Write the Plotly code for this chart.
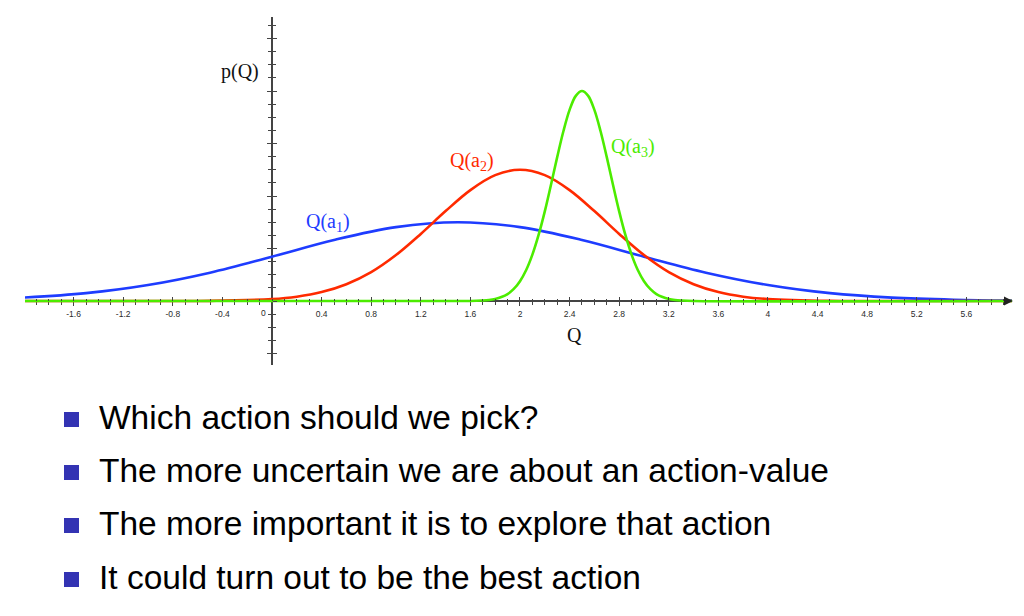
import plotly.graph_objects as go

# --- data (p(Q) in axis units) ---
q_a1 = [-2.0, -1.5, -1.0, -0.5, 0.0, 0.5, 1.0, 1.5, 2.0, 2.5, 3.0, 3.5, 4.0, 4.5, 5.0, 5.5, 6.0]
p_a1 = [0.026, 0.060, 0.122, 0.216, 0.338, 0.465, 0.563, 0.600, 0.563, 0.465, 0.338, 0.216, 0.122, 0.060, 0.026, 0.010, 0.003]

q_a2 = [-2.0, -1.0, -0.5, 0.0, 0.2, 0.4, 0.6, 0.8, 1.0, 1.2, 1.4, 1.6, 1.8, 2.0,
        2.2, 2.4, 2.6, 2.8, 3.0, 3.2, 3.4, 3.6, 3.8, 4.0, 4.5, 5.0, 6.0]
p_a2 = [0.0, 0.0, 0.001, 0.015, 0.033, 0.068, 0.128, 0.220, 0.350, 0.511, 0.685, 0.845, 0.959, 1.0,
        0.959, 0.845, 0.685, 0.511, 0.350, 0.220, 0.128, 0.068, 0.033, 0.015, 0.001, 0.0, 0.0]

q_a3 = [-2.0, 1.6, 1.7, 1.75, 1.8, 1.85, 1.9, 1.95, 2.0, 2.05, 2.1, 2.15, 2.2, 2.25, 2.3, 2.35, 2.4, 2.45, 2.5,
        2.55, 2.6, 2.65, 2.7, 2.75, 2.8, 2.85, 2.9, 2.95, 3.0, 3.05, 3.1, 3.15, 3.2, 3.25, 3.3, 3.4, 6.0]
p_a3 = [0.0, 0.0, 0.004, 0.008, 0.016, 0.030, 0.053, 0.092, 0.151, 0.236, 0.353, 0.503, 0.683, 0.886, 1.096,
        1.293, 1.456, 1.563, 1.600, 1.563, 1.456, 1.293, 1.096, 0.886, 0.683, 0.503, 0.353, 0.236, 0.151,
        0.092, 0.053, 0.030, 0.016, 0.008, 0.004, 0.0, 0.0]

x_ticks = [-1.6, -1.2, -0.8, -0.4, 0.4, 0.8, 1.2, 1.6, 2, 2.4, 2.8, 3.2, 3.6, 4, 4.4, 4.8, 5.2, 5.6]
x_labels = ["-1.6", "-1.2", "-0.8", "-0.4", "0.4", "0.8", "1.2", "1.6", "2", "2.4", "2.8",
            "3.2", "3.6", "4", "4.4", "4.8", "5.2", "5.6"]

bullets = [
    "Which action should we pick?",
    "The more uncertain we are about an action-value",
    "The more important it is to explore that action",
    "It could turn out to be the best action",
]

BLUE = "#1e3cff"
RED = "#ff2a00"
GREEN = "#4cec00"
AXIS = "#444444"
W, H = 1024, 616

fig = go.Figure()
for xs, ys, col in [(q_a1, p_a1, BLUE), (q_a2, p_a2, RED), (q_a3, p_a3, GREEN)]:
    fig.add_trace(go.Scatter(x=xs, y=ys, mode="lines", line=dict(color=col, width=2.6, shape="spline"),
                             showlegend=False, hoverinfo="skip"))
# empty trace so the second (inside-tick) axes get drawn
fig.add_trace(go.Scatter(x=[], y=[], xaxis="x2", yaxis="y2", showlegend=False))

xdom = [25 / W, 1012 / W]
ydom = [1 - 365 / H, 1 - 17 / H]
xrng = [-1.992, 5.968]
yrng = [-0.4876, 2.1638]
xpos = 1 - 301 / H
ypos = 272 / W

tickfont = dict(family="Liberation Sans", size=8.5, color="#2a2a2a")

common_x = dict(domain=xdom, range=xrng, anchor="free", position=xpos, showgrid=False, zeroline=False,
                tickmode="array", tickvals=x_ticks, tickcolor=AXIS, tickwidth=1.3, ticklen=4)
common_y = dict(domain=ydom, range=yrng, anchor="free", position=ypos, showgrid=False, zeroline=False,
                tickmode="linear", tick0=0, dtick=0.4, tickcolor=AXIS, tickwidth=1.3, ticklen=4,
                showticklabels=False)

fig.update_layout(
    width=W, height=H,
    margin=dict(l=0, r=0, t=0, b=0),
    paper_bgcolor="white", plot_bgcolor="rgba(0,0,0,0)",
    xaxis=dict(**common_x, showline=True, linecolor=AXIS, linewidth=2, ticks="outside",
               ticktext=x_labels, tickfont=tickfont, ticklabelstandoff=1, layer="below traces",
               minor=dict(ticks="outside", dtick=0.1, tick0=0, ticklen=2.5, tickcolor=AXIS, tickwidth=1)),
    xaxis2=dict(**common_x, overlaying="x", showline=False, ticks="inside", showticklabels=False,
                layer="above traces",
                minor=dict(ticks="inside", dtick=0.1, tick0=0, ticklen=2.5, tickcolor=AXIS, tickwidth=1)),
    yaxis=dict(**common_y, showline=True, linecolor=AXIS, linewidth=2, ticks="outside",
               layer="below traces",
               minor=dict(ticks="outside", dtick=0.1, tick0=0, ticklen=3, tickcolor=AXIS, tickwidth=1)),
    yaxis2=dict(**common_y, overlaying="y", showline=False, ticks="inside", layer="above traces",
                minor=dict(ticks="inside", dtick=0.1, tick0=0, ticklen=3, tickcolor=AXIS, tickwidth=1)),
)

serif = "Liberation Serif"
labels = [
    (0.45, 0.60, "Q(a<sub>1</sub>)", BLUE),
    (1.61, 1.06, "Q(a<sub>2</sub>)", RED),
    (2.91, 1.17, "Q(a<sub>3</sub>)", GREEN),
    (-0.26, 1.75, "p(Q)", "#111111"),
    (2.44, -0.26, "Q", "#111111"),
]
for x, y, t, c in labels:
    fig.add_annotation(x=x, y=y, xref="x", yref="y", text=t, showarrow=False,
                       font=dict(family=serif, size=20, color=c))
fig.add_annotation(x=0, y=0, xref="x", yref="y", text="0", showarrow=False, yshift=-12, xshift=-9,
                   font=tickfont)

# arrow head at the end of the Q axis
fig.add_annotation(x=1013 / W, y=xpos, xref="paper", yref="paper", ax=-10, ay=0, text="",
                   showarrow=True, arrowhead=2, arrowsize=1.2, arrowwidth=1.5, arrowcolor="#222222")

# bullet list under the chart
line_y = [417, 470, 523, 577]
for txt, py in zip(bullets, line_y):
    fig.add_annotation(x=97 / W, y=1 - py / H, xref="paper", yref="paper", text=txt, showarrow=False,
                       xanchor="left", yanchor="middle",
                       font=dict(family="Liberation Sans", size=33.5, color="#000000"))
    fig.add_shape(type="rect", xref="paper", yref="paper", x0=64 / W, x1=79 / W,
                  y0=1 - (py + 10) / H, y1=1 - (py - 5) / H,
                  fillcolor="#3333b3", line=dict(width=0))

fig.write_html("out.html", config={"displayModeBar": False},
               post_script="document.body.style.margin='0';")
